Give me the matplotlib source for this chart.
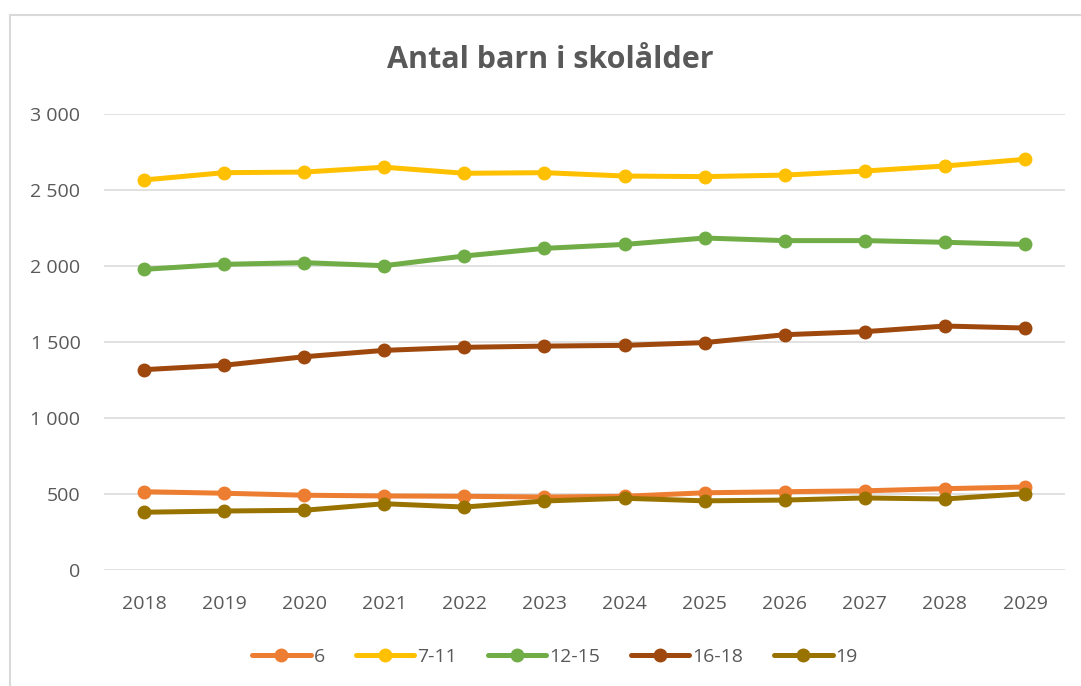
import matplotlib
matplotlib.use("Agg")
import matplotlib.pyplot as plt
from matplotlib.lines import Line2D
from matplotlib.ticker import FuncFormatter

years = ["2018", "2019", "2020", "2021", "2022", "2023", "2024", "2025", "2026", "2027", "2028", "2029"]
series_names = ["6", "7-11", "12-15", "16-18", "19"]
age_6 = [515, 505, 492, 487, 485, 480, 485, 508, 515, 521, 535, 546]
age_7_11 = [2566, 2614, 2618, 2650, 2610, 2614, 2592, 2588, 2598, 2625, 2658, 2702]
age_12_15 = [1978, 2011, 2022, 2002, 2066, 2116, 2142, 2184, 2167, 2167, 2156, 2142]
age_16_18 = [1318, 1347, 1403, 1445, 1465, 1473, 1478, 1496, 1548, 1568, 1605, 1592]
age_19 = [380, 388, 393, 436, 414, 454, 472, 455, 460, 474, 467, 502]
colors = ["#ED7D31", "#FFC000", "#70AD47", "#9E480E", "#997300"]

plt.rcParams['font.family'] = ['Open Sans', 'DejaVu Sans']

W, H = 1081, 686
fig = plt.figure(figsize=(W / 100, H / 100), dpi=100)
ax = fig.add_axes([104 / W, (H - 570) / H, (1065 - 104) / W, (570 - 114) / H])

x = list(range(len(years)))
for name, vals, c in zip(series_names, [age_6, age_7_11, age_12_15, age_16_18, age_19], colors):
    ax.plot(x, vals, color=c, lw=3.6, marker="o", markersize=9,
            solid_capstyle="round", label=name, zorder=3)

ax.set_xlim(-0.5, len(years) - 0.5)
ax.set_ylim(0, 3000)
ax.set_yticks(range(0, 3001, 500))
ax.yaxis.set_major_formatter(FuncFormatter(lambda v, p: f"{int(v):,}".replace(",", " ")))
ax.set_xticks(x)
ax.set_xticklabels(years)
ax.grid(axis="y", color="#D9D9D9", lw=1.1, zorder=0)
for s in ax.spines.values():
    s.set_visible(False)
ax.tick_params(axis="both", length=0, colors="#595959", labelsize=14)
ax.tick_params(axis="y", pad=17)
ax.tick_params(axis="x", pad=18)

fig.text(550 / W, 1 - 60 / H, "Antal barn i skolålder", ha="center", va="center",
         fontsize=22, fontweight="bold", color="#595959")

leg = fig.legend(loc="center", bbox_to_anchor=(555 / W, 1 - 657 / H), ncol=5,
                 frameon=False, fontsize=14, handlelength=3.0, handletextpad=0.15,
                 columnspacing=1.6, labelcolor="#595959")

# chart border
fig.add_artist(Line2D([10 / W, 10 / W], [0, 1 - 15 / H], transform=fig.transFigure,
                      color="#D9D9D9", lw=1.5))
fig.add_artist(Line2D([10 / W, 1], [1 - 15 / H, 1 - 15 / H], transform=fig.transFigure,
                      color="#D9D9D9", lw=1.5))

fig.savefig("out.png", dpi=100, facecolor="white")
